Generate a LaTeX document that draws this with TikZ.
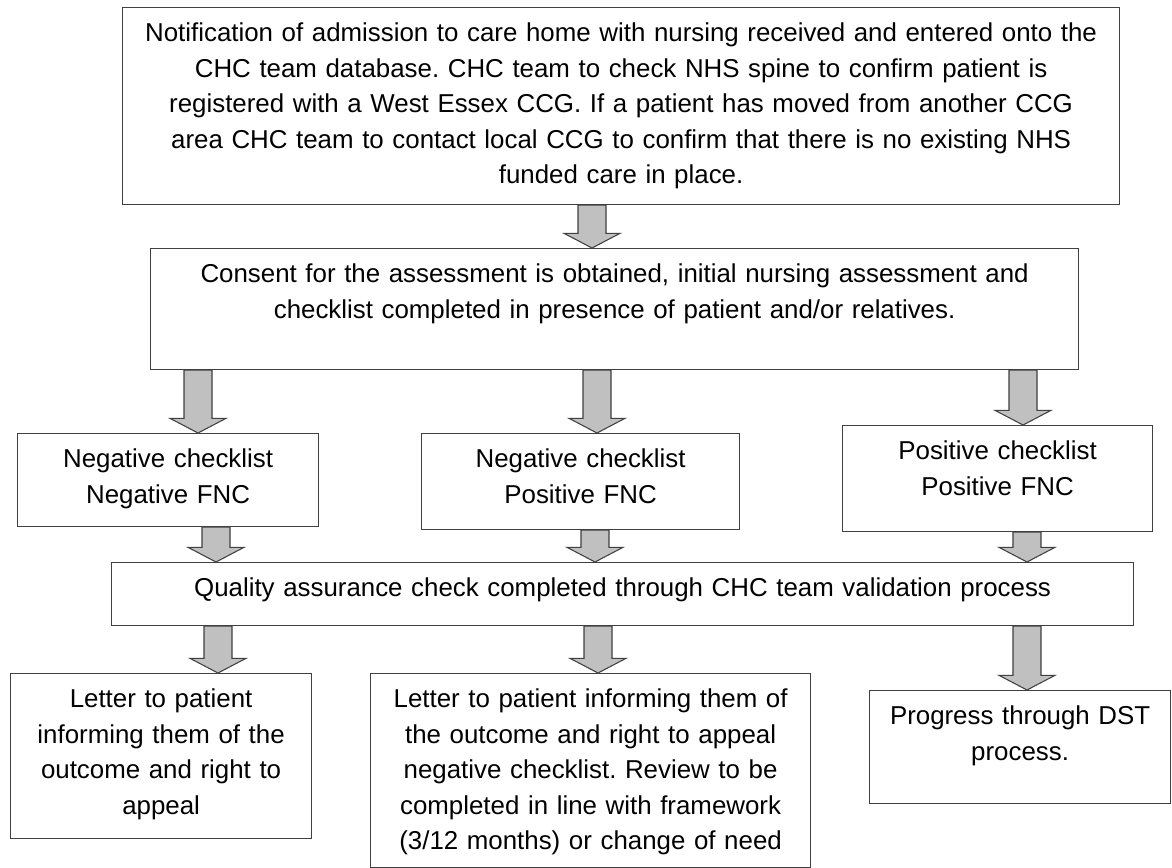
\documentclass[tikz,border=0pt]{standalone}
\usepackage{fontspec}
\setmainfont{Liberation Sans}
\usetikzlibrary{calc}
\frenchspacing
\definecolor{linegray}{HTML}{404040}
\definecolor{arrowgray}{HTML}{C0C0C0}
% fat grey arrow: x position (px), upper node, lower node
\newcommand{\blockarrow}[3]{%
  \filldraw [blockarrow] let \p1=(#2.south), \p2=(#3.north), \p3=(#1,0) in
    (\x3-10.5pt,\y1) -- (\x3+10.5pt,\y1) -- (\x3+10.5pt,\y2+11pt) -- (\x3+21pt,\y2+11pt)
    -- (\x3,\y2) -- (\x3-21pt,\y2+11pt) -- (\x3-10.5pt,\y2+11pt) -- cycle;}

\begin{document}
\begin{tikzpicture}[x=0.75pt,y=-0.75pt,
  font=\fontsize{19.4}{26.6}\selectfont,
  box/.style={rectangle,draw=linegray,line width=0.9pt,anchor=north west,align=center,
              inner xsep=3pt,inner ysep=0pt,text height=25.5pt},
  boxdim/.style 2 args={minimum width=#1*0.75pt,text width=#1*0.75pt-6pt,text depth=#2*0.75pt-25.5pt},
  blockarrow/.style={fill=arrowgray,draw=linegray,line width=0.8pt,line join=miter}]
\useasboundingbox (0,0) rectangle (1172,868);
\node (notify)  at (122,7)   [box,boxdim={997}{197}] {Notification of admission to care home with nursing received and entered onto the\\
  CHC team database. CHC team to check NHS spine to confirm patient is\\
  registered with a West Essex CCG. If a patient has moved from another CCG\\
  area CHC team to contact local CCG to confirm that there is no existing NHS\\
  funded care in place.};
\node (consent) at (150,248) [box,boxdim={928}{121}] {Consent for the assessment is obtained, initial nursing assessment and\\
  checklist completed in presence of patient and/or relatives.};
\node (negneg)  at (17,433)  [box,boxdim={301}{93}]  {Negative checklist\\ Negative FNC};
\node (negpos)  at (421,433) [box,boxdim={318}{96}]  {Negative checklist\\ Positive FNC};
\node (pospos)  at (842,425) [box,boxdim={310}{106}] {Positive checklist\\ Positive FNC};
\node (quality) at (111,562) [box,boxdim={1022}{63}] {Quality assurance check completed through CHC team validation process};
\node (letter)  at (10,673)  [box,boxdim={301}{165}] {Letter to patient\\ informing them of the\\ outcome and right to\\ appeal};
\node (review)  at (370,673) [box,boxdim={440}{194}] {Letter to patient informing them of\\ the outcome and right to appeal\\
  negative checklist. Review to be\\ completed in line with framework\\ (3/12 months) or change of need};
\node (dst)     at (869,690) [box,boxdim={301}{113}] {Progress through DST\\ process.};
\blockarrow{592}{notify}{consent}
\blockarrow{198}{consent}{negneg}
\blockarrow{597}{consent}{negpos}
\blockarrow{1023}{consent}{pospos}
\blockarrow{216}{negneg}{quality}
\blockarrow{595}{negpos}{quality}
\blockarrow{1027}{pospos}{quality}
\blockarrow{218}{quality}{letter}
\blockarrow{598}{quality}{review}
\blockarrow{1027}{quality}{dst}
\end{tikzpicture}
\end{document}
